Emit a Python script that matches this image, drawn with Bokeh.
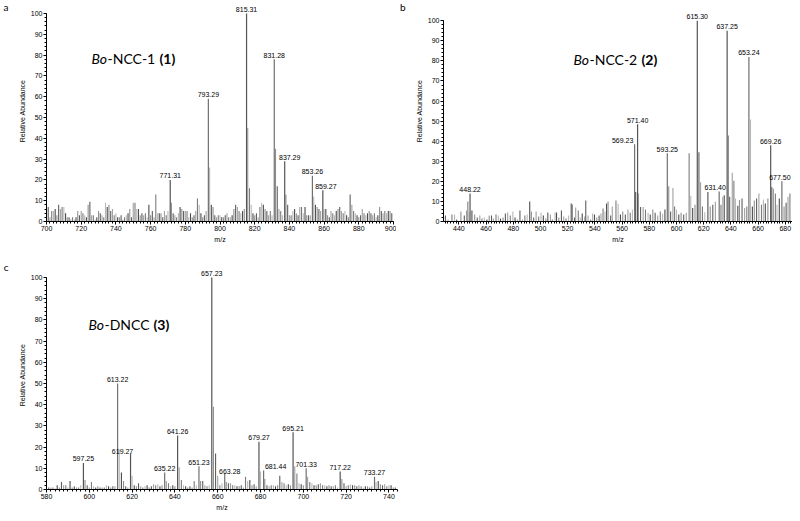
from bokeh.plotting import figure
from bokeh.models import Range1d, SingleIntervalTicker, FixedTicker, Label, ColumnDataSource, LinearAxis
from bokeh.layouts import column, row
from bokeh.embed import file_html
from bokeh.resources import INLINE
from bokeh.core.properties import value

# ---------------- DATA ----------------
# Panel a : Bo-NCC-1 (1)
a_peak_mz = [771.31, 793.29, 815.31, 831.28, 837.29, 853.26, 859.27]
a_peak_int = [20, 59, 100, 78, 29, 22, 15]
a_noise_start = 701
a_noise_int = [7, 2, 5, 5, 6, 3, 8, 6, 7, 7, 4, 2, 2, 1, 2, 1, 2, 5, 3, 5,
               4, 3, 2, 8, 9.5, 3, 3, 1, 2, 5, 4, 3, 2, 9, 7, 8, 5, 6, 3, 4,
               2, 2, 3, 1, 2, 3, 4, 6, 2, 9, 9, 6, 6, 3, 4, 3, 4, 2, 8, 3,
               5, 2, 13, 4, 4, 4, 2, 5, 3, 5, 0, 9, 4, 3, 2, 4, 7, 6, 5, 5,
               5, 2, 4, 2, 3, 5, 11, 8, 4, 2, 3, 5, 0, 26, 8, 7, 3, 2, 3, 3,
               2, 2, 3, 4, 2, 2, 3, 6, 8, 7, 5, 4, 5, 6, 0, 45, 16, 8, 4, 3,
               4, 2, 7, 9, 8, 6, 5, 3, 5, 3, 0, 35, 17, 6, 5, 3, 0, 13, 8, 3,
               3, 5, 6, 4, 3, 7, 7, 4, 7, 3, 3, 3, 0, 12, 8, 7, 6, 5, 0, 6,
               6, 3, 2, 5, 4, 3, 5, 6, 7, 5, 4, 5, 3, 2, 13, 8, 5, 4, 3, 2,
               3, 6, 4, 3, 4, 5, 4, 3, 4, 2, 3, 7, 5, 4, 5, 4, 5, 5, 4]

# Panel b : Bo-NCC-2 (2)
b_peak_mz = [448.22, 569.23, 571.40, 593.25, 615.30, 631.40, 637.25, 653.24, 669.26, 677.50]
b_peak_int = [14, 38.5, 48.5, 34, 100, 15, 95, 82, 38, 20]
b_noise_mz = [430.1, 432.0, 434.9, 436.8, 438.4, 441.5, 444.0, 445.6, 446.6, 447.5,
              449.6, 451.6, 453.5, 455.4, 457.0, 458.7, 460.6, 462.3, 464.0, 465.4,
              467.3, 469.0, 470.6, 472.5, 474.2, 475.9, 477.8, 479.7, 481.3, 483.0,
              484.9, 486.8, 488.5, 490.2, 492.1, 493.3, 495.0, 496.8, 498.7, 500.4,
              502.1, 504.0, 505.4, 507.3, 508.7, 510.7, 511.8, 513.5, 515.4, 517.1,
              518.8, 520.7, 522.6, 523.5, 525.0, 525.9, 527.8, 529.2, 530.7, 532.6,
              533.3, 535.0, 536.9, 538.3, 539.7, 541.4, 543.1, 544.5, 546.0, 547.4,
              548.6, 549.7, 551.6, 552.8, 555.5, 557.1, 558.8, 560.5, 562.4, 564.3,
              566.0, 567.6, 570.0, 571.9, 573.6, 575.5, 577.2, 579.1, 580.7, 582.6,
              584.3, 586.2, 588.1, 589.8, 591.5, 594.3, 595.7, 597.4, 598.6, 600.0,
              601.7, 603.4, 605.3, 607.2, 609.3, 610.5, 611.9, 613.6, 616.5, 617.7,
              619.1, 620.8, 623.1, 624.8, 626.7, 628.6, 632.7, 633.9, 635.1, 638.2,
              639.1, 641.0, 642.2, 643.4, 645.1, 646.3, 648.2, 650.1, 651.7, 654.4,
              655.8, 657.2, 658.9, 660.6, 662.5, 663.9, 665.3, 667.2, 670.1, 671.3,
              672.7, 673.9, 675.6, 679.1, 680.6, 682.0, 683.4]
b_noise_int = [3, 1, 3.5, 3.5, 1, 5, 3, 5.5, 10, 4.5,
               5.5, 3.5, 2, 3, 1.5, 2, 1, 3, 3, 1.5,
               3.5, 3, 1.5, 2, 4, 4.5, 3, 5, 2, 1,
               5.5, 1, 3, 3.5, 10, 5, 2, 5, 2.5, 4.5,
               3, 1.5, 4.5, 3.5, 1, 4.5, 4.5, 2, 5.5, 2.5,
               1.5, 3, 9, 8.5, 2, 7, 5.5, 2, 4, 2.5,
               10.5, 3, 1, 4, 3.5, 2, 3, 4, 6.5, 5,
               9, 10, 3, 7.5, 10.5, 8.8, 3.5, 5, 3.5, 6,
               4.3, 6, 14.7, 13.9, 7.2, 7.2, 6, 4.3, 3.5, 6,
               4.3, 3, 5, 3.9, 6, 17.5, 5, 16.7, 7.5, 6,
               3.5, 4.3, 3.5, 4.3, 34, 12.8, 6.7, 8.3, 34.5, 19.5,
               7.5, 4.6, 14.7, 7.5, 8.3, 9.9, 8.3, 12.3, 13.1, 42.8,
               12.3, 24.3, 20.3, 11.5, 7.8, 10.7, 11.5, 6.7, 7.5, 50.8,
               7.5, 10.4, 11.5, 13.9, 8.3, 11, 9, 11.5, 17.1, 16.3,
               13.9, 8.3, 11.5, 7.5, 9.4, 12.3, 13.9]

# Panel c : Bo-DNCC (3)
c_peak_mz = [597.25, 613.22, 619.27, 635.22, 641.26, 651.23, 657.23, 663.28,
             679.27, 681.44, 695.21, 701.33, 717.22, 733.27]
c_peak_int = [12.5, 50, 17, 8, 25.5, 11, 100, 7.5, 22.5, 9, 27, 10, 8.5, 6]
c_noise_start = 581
c_noise_int = [1, 1, 1, 0.5, 2, 1, 3.5, 2, 2, 1, 4, 1, 1.5, 1, 1, 2, 0, 4.5, 2, 1,
               3.5, 1.5, 1, 1.5, 1, 1, 1, 2, 1.5, 1, 1.5, 1.5, 0, 19, 8, 4, 1.5, 1, 0, 6.5,
               2, 1.5, 3, 1.5, 1, 1.5, 2, 1, 1.5, 2.5, 2, 2.5, 1.5, 2, 0, 4, 3, 1.5, 2, 1.5,
               0, 10.5, 4.5, 2, 1.5, 1, 1.5, 1, 4, 2, 0, 4, 4, 2, 1.5, 2, 0, 39, 17, 6.5,
               2, 3, 0, 3.5, 3, 3, 2, 2, 1.5, 1.5, 2, 1, 6, 4, 4.5, 2, 2.5, 1.5, 0, 8.5,
               0, 5, 2, 1.5, 2, 2, 1.5, 2, 6.5, 3.5, 3, 2, 2.5, 2, 0, 11, 7.5, 3, 2.5, 2,
               0, 6, 3.5, 3, 2, 2, 2.5, 3, 2, 2, 1.5, 2, 1.5, 1.5, 2, 1, 0, 5, 3, 1.5,
               2, 2.5, 2, 2, 1.5, 2, 1.5, 1, 1.5, 1.5, 1, 1.5, 0, 3.5, 4, 2.5, 2, 2.5, 1.5, 2,
               2, 1, 1]

panel_letters = ["a", "b", "c"]
compound_names = [("Bo", "-NCC-1", "(1)"), ("Bo", "-NCC-2", "(2)"), ("Bo", "-DNCC", "(3)")]
y_ticks_interval = 10
x_ticks_interval = 20

# ---------------- STYLE ----------------
GRAYS = ["#5e5e5e", "#a0a0a0", "#7c7c7c", "#b8b8b8", "#4c4c4c", "#909090"]
TICK_FONT = "Liberation Sans"
TITLE_FONT = "Lato"


def panel(width, height, xr, y_end, bl, br, bb, bt=0):
    p = figure(width=width, height=height, x_range=Range1d(*xr), y_range=Range1d(0, y_end),
               output_backend="svg", toolbar_location=None,
               min_border_left=bl, min_border_right=br, min_border_bottom=bb, min_border_top=bt,
               background_fill_color="white", border_fill_color="white")
    p.xgrid.visible = False
    p.ygrid.visible = False
    p.outline_line_color = None
    for ax in (p.xaxis[0], p.yaxis[0]):
        ax.axis_line_color = "black"
        ax.axis_line_width = 1
        ax.major_tick_line_color = "black"
        ax.minor_tick_line_color = "black"
        ax.major_tick_in = 0
        ax.major_tick_out = 3
        ax.minor_tick_in = 0
        ax.minor_tick_out = 2
        ax.major_label_text_font = TICK_FONT
        ax.major_label_text_font_size = "7px"
        ax.major_label_text_color = "black"
        ax.major_label_standoff = 1
        ax.axis_label_text_font = TICK_FONT
        ax.axis_label_text_font_size = "7px"
        ax.axis_label_text_font_style = "normal"
        ax.axis_label_text_color = "black"
        ax.axis_label_standoff = 2
    p.yaxis[0].ticker = SingleIntervalTicker(interval=y_ticks_interval, num_minor_ticks=5)
    p.xaxis[0].ticker = SingleIntervalTicker(interval=x_ticks_interval, num_minor_ticks=10)
    p.yaxis[0].bounds = (0, 100)
    p.yaxis[0].axis_label = "Relative Abundance"
    p.xaxis[0].axis_label = "m/z"
    return p


def bars(p, mz, inten):
    cols = [GRAYS[i % len(GRAYS)] for i in range(len(mz))]
    src = ColumnDataSource(dict(x=mz, y0=[0] * len(mz), y1=inten, c=cols))
    p.segment(x0="x", y0="y0", x1="x", y1="y1", source=src, line_color="c", line_width=1.1)


def peaks(p, mz, inten, offsets):
    labels = ["%.2f" % m for m in mz]
    dx = [offsets.get(l, (0, 0))[0] for l in labels]
    dy = [offsets.get(l, (0, 0))[1] - 1.5 for l in labels]
    cols = ["#555555" if i % 2 == 0 else "#707070" for i in range(len(mz))]
    src = ColumnDataSource(dict(x=mz, y0=[0] * len(mz), y1=inten, t=labels, dx=dx, dy=dy, c=cols))
    p.segment(x0="x", y0="y0", x1="x", y1="y1", source=src, line_color="c", line_width=1.2)
    p.text(x="x", y="y1", text="t", source=src, x_offset="dx", y_offset="dy",
           text_font=value(TICK_FONT), text_font_size="7px", text_color="black",
           text_align="center", text_baseline="bottom")


def compound(p, x, y, parts, dx1, dx2):
    for txt, style, off in ((parts[0], "italic", 0), (parts[1], "normal", dx1), (parts[2], "bold", dx2)):
        p.add_layout(Label(x=x + off, y=y, x_units="screen", y_units="screen", text=txt,
                           text_font=TITLE_FONT, text_font_size="14px", text_font_style=style,
                           text_color="black", text_baseline="alphabetic"))


def letter(p, yval, t):
    ax = LinearAxis(ticker=FixedTicker(ticks=[yval]), major_label_overrides={yval: t},
                    axis_line_color=None, major_tick_line_color=None, minor_tick_line_color=None,
                    major_label_text_font=TITLE_FONT, major_label_text_font_size="10px",
                    major_label_text_color="black", major_label_standoff=1)
    p.add_layout(ax, "left")


# Panel a
pa = panel(396, 260, (700, 900), 106.25, 36, 3, 39)
bars(pa, [a_noise_start + i for i in range(len(a_noise_int))], a_noise_int)
peaks(pa, a_peak_mz, a_peak_int, {"837.29": (5, 0), "859.27": (3, 0)})
compound(pa, 45, 163, compound_names[0], 16, 68)
letter(pa, 103.4, panel_letters[0])

# Panel b
pb = panel(396, 260, (428.7, 685.3), 110.1, 37, 0, 31)
bars(pb, b_noise_mz, b_noise_int)
peaks(pb, b_peak_mz, b_peak_int, {"569.23": (-12, 0), "631.40": (-4, 0), "677.50": (-2, 0)})
compound(pb, 130, 162, compound_names[1], 16, 68)
letter(pb, 107.2, panel_letters[1])

# Panel c
pc = panel(400, 253, (580, 744), 108, 32, 3, 23)
bars(pc, [c_noise_start + i for i in range(len(c_noise_int))], c_noise_int)
peaks(pc, c_peak_mz, c_peak_int, {"619.27": (-8, 2), "663.28": (5, 2), "681.44": (12, 0)})
compound(pc, 42, 165, compound_names[2], 16, 65)
letter(pc, 105.2, panel_letters[2])

layout = column(row(pa, pb), pc)
open("out.html", "w").write(file_html(layout, INLINE))
